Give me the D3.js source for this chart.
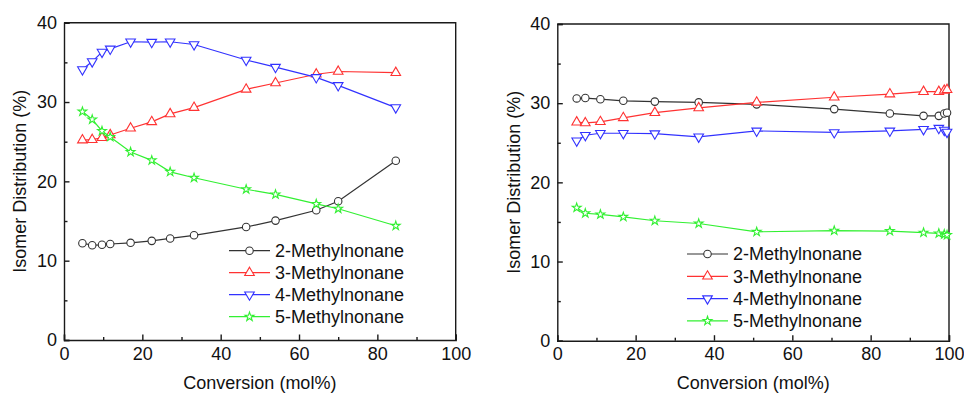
<!DOCTYPE html>
<html>
<head>
<meta charset="utf-8">
<script src="https://cdn.jsdelivr.net/npm/d3@7"></script>
<style>
  body { margin: 0; background: #fff; }
  svg { font-family: "Liberation Sans", Arial, sans-serif; }
</style>
</head>
<body>
<div class="chart"></div>
<script>
// data
var seriesNames = ["2-Methylnonane", "3-Methylnonane", "4-Methylnonane", "5-Methylnonane"];

var convLeft = [4.7, 7.2, 9.7, 11.8, 17.0, 22.4, 27.1, 33.2, 46.5, 54.0, 64.4, 70.0, 84.7];
var leftMe2 = [12.2, 11.95, 12.0, 12.1, 12.25, 12.5, 12.8, 13.2, 14.25, 15.05, 16.35, 17.5, 22.6];
var leftMe3 = [25.2, 25.25, 25.5, 25.85, 26.7, 27.5, 28.5, 29.3, 31.6, 32.4, 33.5, 33.85, 33.7];
var leftMe4 = [34.1, 35.1, 36.3, 36.7, 37.6, 37.55, 37.6, 37.25, 35.3, 34.4, 33.1, 32.1, 29.3];
var leftMe5 = [28.8, 27.8, 26.35, 25.6, 23.7, 22.65, 21.2, 20.45, 19.0, 18.35, 17.15, 16.55, 14.4];

var convRight = [4.95, 7.15, 11.0, 16.85, 24.9, 36.1, 50.9, 70.7, 84.9, 93.5, 97.4, 98.8, 99.5];
var rightMe2 = [30.6, 30.65, 30.5, 30.3, 30.2, 30.1, 29.85, 29.25, 28.7, 28.4, 28.4, 28.7, 28.8];
var rightMe3 = [27.6, 27.5, 27.65, 28.15, 28.8, 29.4, 30.1, 30.75, 31.15, 31.45, 31.45, 31.6, 31.7];
var rightMe4 = [25.25, 25.95, 26.2, 26.2, 26.15, 25.75, 26.5, 26.3, 26.5, 26.7, 26.85, 26.6, 26.35];
var rightMe5 = [16.8, 16.1, 15.95, 15.65, 15.15, 14.8, 13.75, 13.9, 13.85, 13.65, 13.55, 13.45, 13.35];

var xTicks = [0, 20, 40, 60, 80, 100];
var yTicks = [0, 10, 20, 30, 40];

var colors = ["#333333", "#ff3232", "#3232ff", "#32f032"];
var symbols = [
    d3.symbol().type(d3.symbolCircle).size(44),
    d3.symbol().type(d3.symbolTriangle).size(40),
    d3.symbol().type(d3.symbolTriangle).size(40),
    d3.symbol().type(d3.symbolStar).size(24)
];
var rotations = [0, 0, 180, 0];

var svg = d3.select(".chart")
    .append("svg")
    .attr("width", 964)
    .attr("height", 394);

var panels = [
    { left: 64, top: 22.7, width: 391.7, height: 317.3, conv: convLeft,
      ys: [leftMe2, leftMe3, leftMe4, leftMe5],
      legend: { x: 229, y: 250.7, step: 22 }, titleX: 20 },
    { left: 557.3, top: 24, width: 391.7, height: 316.7, conv: convRight,
      ys: [rightMe2, rightMe3, rightMe4, rightMe5],
      legend: { x: 687, y: 254, step: 22.3 }, titleX: 514 }
];

panels.forEach(function(p) {
    var g = svg.append("g")
        .attr("transform", `translate(${p.left}, ${p.top})`);

    var x = d3.scaleLinear().domain([0, 100]).range([0, p.width]);
    var y = d3.scaleLinear().domain([0, 40]).range([p.height, 0]);

    // minor ticks first (inward)
    g.append("g")
        .attr("class", "minor")
        .attr("transform", `translate(0, ${p.height})`)
        .call(d3.axisBottom(x).tickValues(d3.range(10, 100, 20)).tickSize(-3).tickFormat(""));
    g.append("g")
        .attr("class", "minor")
        .call(d3.axisLeft(y).tickValues(d3.range(5, 40, 10)).tickSize(-3.5).tickFormat(""));

    // major axes
    g.append("g")
        .attr("class", "axis")
        .attr("transform", `translate(0, ${p.height})`)
        .call(d3.axisBottom(x).tickValues(xTicks).tickSize(-5.5).tickPadding(6));
    g.append("g")
        .attr("class", "axis")
        .call(d3.axisLeft(y).tickValues(yTicks).tickSize(-5.5).tickPadding(7));

    g.selectAll(".minor .domain").remove();
    g.selectAll(".axis .domain, .axis line, .minor line")
        .attr("stroke", "#1a1a1a")
        .attr("stroke-width", 1.4);
    g.selectAll(".axis text")
        .attr("fill", "#111")
        .style("font-size", "18px");
    g.selectAll(".axis text").filter(function() { return this.parentNode.parentNode.getAttribute("transform"); })
        .attr("dy", "0.75em");

    // frame top & right
    g.append("path")
        .attr("d", `M0,0H${p.width}V${p.height}`)
        .attr("fill", "none")
        .attr("stroke", "#1a1a1a")
        .attr("stroke-width", 1.4);

    // series
    p.ys.forEach(function(vals, i) {
        var pts = p.conv.map(function(c, k) { return [c, vals[k]]; });
        g.append("path")
            .datum(pts)
            .attr("fill", "none")
            .attr("stroke", colors[i])
            .attr("stroke-width", 1.2)
            .attr("d", d3.line().x(d => x(d[0])).y(d => y(d[1])));
        g.selectAll(".m" + i)
            .data(pts)
            .enter()
            .append("path")
            .attr("transform", d => `translate(${x(d[0])}, ${y(d[1])}) rotate(${rotations[i]})`)
            .attr("d", symbols[i])
            .attr("fill", "#fff")
            .attr("stroke", colors[i])
            .attr("stroke-width", 1.1);
    });

    // legend
    seriesNames.forEach(function(name, i) {
        var ly = p.legend.y + i * p.legend.step;
        svg.append("line")
            .attr("x1", p.legend.x).attr("x2", p.legend.x + 41)
            .attr("y1", ly).attr("y2", ly)
            .attr("stroke", colors[i])
            .attr("stroke-width", 1.2);
        svg.append("path")
            .attr("transform", `translate(${p.legend.x + 20.5}, ${ly}) rotate(${rotations[i]})`)
            .attr("d", symbols[i])
            .attr("fill", "#fff")
            .attr("stroke", colors[i])
            .attr("stroke-width", 1.1);
        svg.append("text")
            .attr("x", p.legend.x + 46)
            .attr("y", ly)
            .attr("dy", "0.36em")
            .attr("fill", "#111")
            .style("font-size", "18px")
            .text(name);
    });

    // axis titles
    svg.append("text")
        .attr("transform", `translate(${p.left + p.width / 2}, 389)`)
        .attr("text-anchor", "middle")
        .attr("fill", "#111")
        .style("font-size", "18px")
        .text("Conversion (mol%)");
    svg.append("text")
        .attr("transform", `translate(${p.titleX}, ${p.top + p.height / 2}) rotate(-90)`)
        .attr("text-anchor", "middle")
        .attr("dy", "0.35em")
        .attr("fill", "#111")
        .style("font-size", "18px")
        .text("Isomer Distribution (%)");
});
</script>
</body>
</html>
